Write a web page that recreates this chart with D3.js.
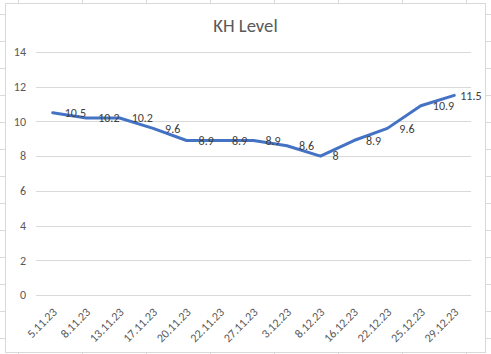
<!DOCTYPE html>
<html>
<head>
<meta charset="utf-8">
<script src="https://cdn.jsdelivr.net/npm/d3@7"></script>
<style>
  html, body { margin: 0; padding: 0; background: #fff; }
  svg { display: block; }
</style>
</head>
<body>
<svg id="chart"></svg>
<script>
// KH level readings, Nov-Dec 2023
const dates = ["5.11.23", "8.11.23", "13.11.23", "17.11.23", "20.11.23", "22.11.23",
  "27.11.23", "3.12.23", "8.12.23", "16.12.23", "22.12.23", "25.12.23", "29.12.23"];
const khValues = [10.5, 10.2, 10.2, 9.6, 8.9, 8.9, 8.9, 8.6, 8, 8.9, 9.6, 10.9, 11.5];
const yTicks = [0, 2, 4, 6, 8, 10, 12, 14];
const title = "KH Level";

const width = 491,
  height = 354,
  box = { left: 5.5, top: 3.5, right: 485.5, bottom: 352.5 },
  plot = { left: 36, right: 471, top: 52, bottom: 295 };

const font = "Calibri, Carlito, 'Liberation Sans', Arial, sans-serif";

const svg = d3.select("svg#chart").attr("width", width).attr("height", height);

// spreadsheet cells behind the chart
const sheet = svg.append("g").attr("stroke", "#dadada").attr("stroke-width", 1);
sheet.selectAll("line.row")
  .data(d3.range(14, height, 27))
  .join("line")
  .attr("x1", 0).attr("x2", width)
  .attr("y1", d => d + 0.5).attr("y2", d => d + 0.5);
sheet.selectAll("line.col")
  .data(d3.range(18, width, 64))
  .join("line")
  .attr("y1", 0).attr("y2", height)
  .attr("x1", d => d + 0.5).attr("x2", d => d + 0.5);

// chart area
svg.append("rect")
  .attr("x", box.left).attr("y", box.top)
  .attr("width", box.right - box.left).attr("height", box.bottom - box.top)
  .attr("fill", "#fff")
  .attr("stroke", "#d9d9d9");

const x = d3.scalePoint(dates, [plot.left, plot.right]).padding(0.5);
const y = d3.scaleLinear([0, 14], [plot.bottom, plot.top]);

const g = svg.append("g").style("font-family", font);

// gridlines + y labels
const yAxis = d3.axisLeft(y).tickValues(yTicks).tickSize(-(plot.right - plot.left)).tickPadding(10);
g.append("g")
  .attr("transform", `translate(${plot.left}, 0)`)
  .call(yAxis)
  .call(a => a.select(".domain").remove())
  .call(a => a.selectAll(".tick line").attr("stroke", "#d9d9d9").attr("shape-rendering", "crispEdges"))
  .call(a => a.selectAll(".tick text")
    .attr("fill", "#595959")
    .style("font-size", "12px")
    .style("font-family", font));

// x labels, rotated
g.append("g")
  .selectAll("text")
  .data(dates)
  .join("text")
  .attr("transform", d => `translate(${x(d) + 2}, 310) rotate(-45)`)
  .attr("text-anchor", "end")
  .attr("dy", "0.35em")
  .attr("fill", "#595959")
  .style("font-size", "12px")
  .text(d => d);

// line
const points = dates.map((d, i) => ({ date: d, value: khValues[i] }));
g.append("path")
  .datum(points)
  .attr("fill", "none")
  .attr("stroke", "#4472c4")
  .attr("stroke-width", 3)
  .attr("stroke-linejoin", "round")
  .attr("stroke-linecap", "round")
  .attr("d", d3.line().x(d => x(d.date)).y(d => y(d.value)));

// data labels, right of each point
g.append("g")
  .selectAll("text")
  .data(points)
  .join("text")
  .attr("y", d => y(d.value))
  .attr("dy", "0.35em")
  .attr("fill", "#404040")
  .style("font-size", "12px")
  .text(d => d.value)
  .attr("x", function (d) {
    const w = this.getComputedTextLength();
    return Math.min(x(d.date) + 12, box.right - 4 - w);
  });

// title
svg.append("text")
  .attr("x", (box.left + box.right) / 2)
  .attr("y", 32)
  .attr("text-anchor", "middle")
  .attr("fill", "#595959")
  .style("font-family", font)
  .style("font-size", "18.67px")
  .text(title);
</script>
</body>
</html>
